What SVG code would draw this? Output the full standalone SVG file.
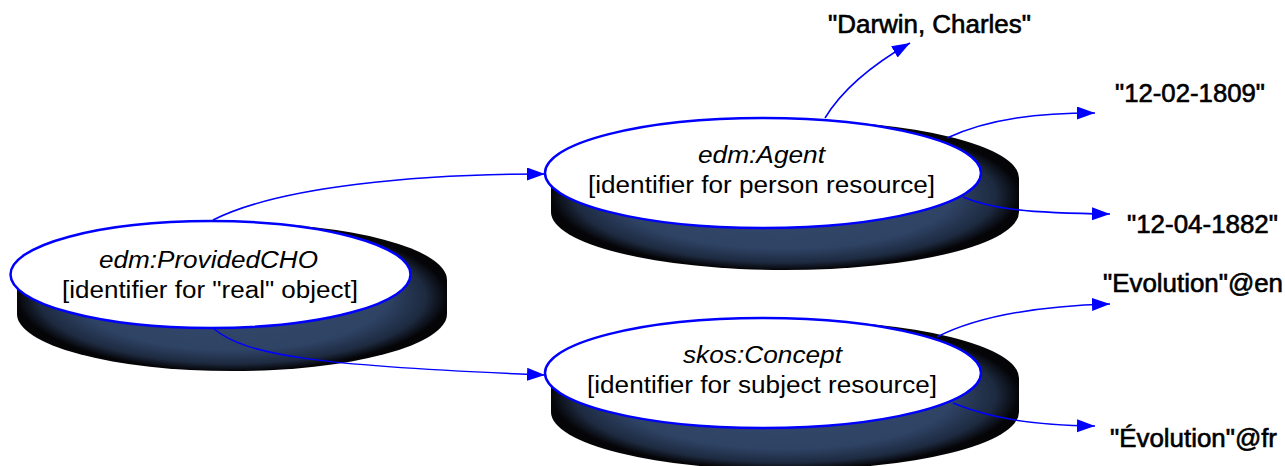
<svg xmlns="http://www.w3.org/2000/svg" width="1285" height="466" viewBox="0 0 1285 466">
<defs>
<radialGradient id="shade" cx="0.5" cy="0.5" r="0.5">
<stop offset="0" stop-color="#34496b"/>
<stop offset="0.72" stop-color="#2f4365"/>
<stop offset="0.9" stop-color="#1d2a40"/>
<stop offset="1" stop-color="#050508"/>
</radialGradient>
<marker id="arr" markerUnits="userSpaceOnUse" markerWidth="19" markerHeight="14" refX="18" refY="6.5" orient="auto">
<path d="M0,0 L18,6.5 L0,13 Z" fill="#0000ff"/>
</marker>
</defs>
<style>
.shadow{fill:url(#shade);}
.node{fill:#ffffff;stroke:#0000ff;stroke-width:2.5;}
.cls{font-family:"Liberation Sans",Arial,sans-serif;font-size:23px;font-style:italic;fill:#000;}
.desc{font-family:"Liberation Sans",Arial,sans-serif;font-size:23px;fill:#000;}
.lit{font-family:"Liberation Sans",Arial,sans-serif;font-size:25px;fill:#000;stroke:#000;stroke-width:0.6;}
.edge{fill:none;stroke:#0000ff;stroke-width:1.5;marker-end:url(#arr);}
</style>
<rect width="1285" height="466" fill="#ffffff"/>
<g id="providedcho">
<path class="shadow" d="M17,280 A215,57 0 0 1 447,280 L447,314 A215,57 0 0 1 17,314 Z"/>
<ellipse class="node" cx="210.5" cy="274.5" rx="200" ry="53.5"/>
<text class="cls" x="99" y="268" textLength="219" lengthAdjust="spacingAndGlyphs">edm:ProvidedCHO</text>
<text class="desc" x="62" y="298" textLength="296" lengthAdjust="spacingAndGlyphs">[identifier for "real" object]</text>
</g>
<g id="agent">
<path class="shadow" d="M551,178 A234,58 0 0 1 1019,178 L1019,212 A234,58 0 0 1 551,212 Z"/>
<ellipse class="node" cx="763" cy="173" rx="218" ry="55"/>
<text class="cls" x="698" y="163" textLength="127" lengthAdjust="spacingAndGlyphs">edm:Agent</text>
<text class="desc" x="588" y="193" textLength="347" lengthAdjust="spacingAndGlyphs">[identifier for person resource]</text>
</g>
<g id="concept">
<path class="shadow" d="M551,378 A234,58 0 0 1 1019,378 L1019,412 A234,58 0 0 1 551,412 Z"/>
<ellipse class="node" cx="763" cy="373" rx="218" ry="55"/>
<text class="cls" x="683" y="363" textLength="159" lengthAdjust="spacingAndGlyphs">skos:Concept</text>
<text class="desc" x="587" y="393" textLength="350" lengthAdjust="spacingAndGlyphs">[identifier for subject resource]</text>
</g>
<g id="lit-name"><text class="lit" x="828" y="33" textLength="203" lengthAdjust="spacingAndGlyphs">"Darwin, Charles"</text></g>
<g id="lit-birth"><text class="lit" x="1115" y="102" textLength="150" lengthAdjust="spacingAndGlyphs">"12-02-1809"</text></g>
<g id="lit-death"><text class="lit" x="1127" y="233" textLength="151" lengthAdjust="spacingAndGlyphs">"12-04-1882"</text></g>
<g id="lit-en"><text class="lit" x="1103" y="292" textLength="180" lengthAdjust="spacingAndGlyphs">"Evolution"@en</text></g>
<g id="lit-fr"><text class="lit" x="1110" y="447" textLength="167" lengthAdjust="spacingAndGlyphs">"Évolution"@fr</text></g>
<g id="connectors">
<path class="edge" d="M213,220 C280,186 420,174 545,174"/>
<path class="edge" d="M213,328 C245,356 320,366 545,375"/>
<path class="edge" d="M825,118 C842,90 870,66 910,43"/>
<path class="edge" d="M947,138 C990,118 1040,113 1095,113"/>
<path class="edge" d="M963,197 C990,208 1020,213 1110,214"/>
<path class="edge" d="M937,337 C980,315 1040,306 1110,304"/>
<path class="edge" d="M953,403 C990,418 1030,425 1095,426"/>
</g>
</svg>
